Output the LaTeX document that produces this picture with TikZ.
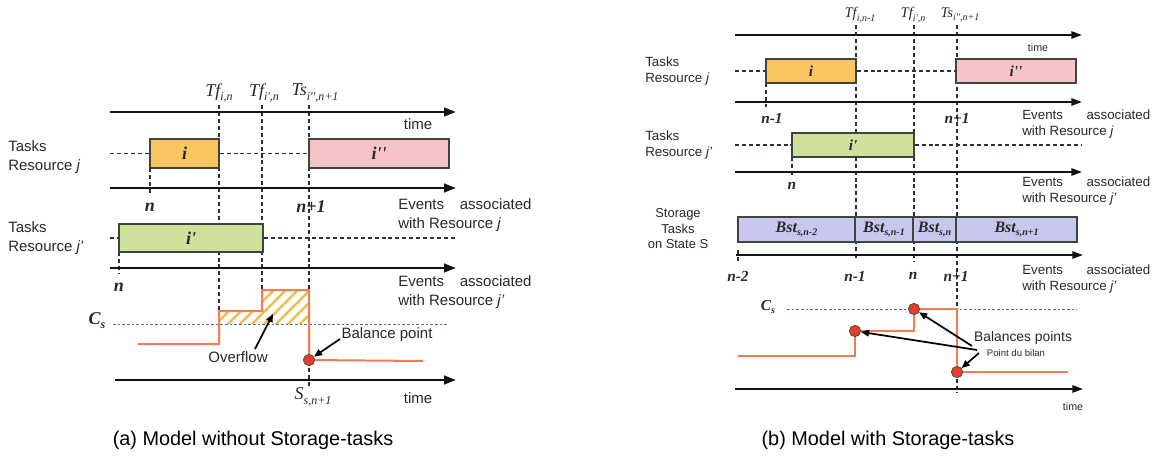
\documentclass[tikz,border=0pt]{standalone}
\usepackage{fontspec}
\setmainfont{Liberation Sans}
\newfontfamily\tms{Liberation Serif}
\usetikzlibrary{arrows.meta}
\definecolor{axc}{RGB}{20,20,20}
\definecolor{dc}{RGB}{40,50,60}
\definecolor{bc}{RGB}{60,70,60}
\definecolor{tc}{RGB}{40,40,40}
\definecolor{oc}{RGB}{242,125,85}
\definecolor{rc}{RGB}{230,60,40}
\definecolor{cc}{RGB}{70,120,150}
\definecolor{hc}{RGB}{245,185,70}
\definecolor{fi}{RGB}{250,196,95}
\definecolor{fii}{RGB}{246,196,198}
\definecolor{fip}{RGB}{206,224,156}
\definecolor{fb}{RGB}{200,200,238}
\newcommand\sbx[2]{\raisebox{-0.5ex}{\fontsize{#1}{#1}\selectfont #2}}
\tikzset{
  ax/.style={draw=axc, line width=1.8pt, -{Triangle[length=9pt,width=6.5pt]}},
  axr/.style={draw=axc, line width=1.4pt, -{Triangle[length=8pt,width=5.5pt]}},
  vd/.style={draw=dc, line width=1pt, dash pattern=on 3pt off 2.2pt},
  tbox/.style={draw=bc, line width=1pt, inner sep=0pt, text=tc},
  stepl/.style={draw=oc, line width=1.5pt},
  csl/.style={draw=cc, line width=0.7pt, dash pattern=on 2pt off 1.5pt},
  bal/.style={circle, fill=rc, draw=black!70, line width=0.6pt, minimum size=8.5pt, inner sep=0pt},
  arr/.style={draw=black, line width=1.3pt, -{Triangle[length=6pt,width=5pt]}},
  lab/.style={font=\fontsize{11.25}{14}\selectfont, text=tc, align=left, inner sep=0pt},
  labr/.style={font=\fontsize{10}{12}\selectfont, text=tc, align=left, inner sep=0pt},
  bil/.style={font=\fontsize{13.5}{14}\selectfont\tms\bfseries\itshape, text=tc, inner sep=0pt},
  bilr/.style={font=\fontsize{11.5}{12}\selectfont\tms\bfseries\itshape, text=tc, inner sep=0pt},
  til/.style={font=\fontsize{13.5}{14}\selectfont\tms\itshape, text=tc, inner sep=0pt},
  tilr/.style={font=\fontsize{11}{12}\selectfont\tms\itshape, text=tc, inner sep=0pt},
  capt/.style={font=\fontsize{14.9}{16}\selectfont, text=black, inner sep=0pt},
}
\begin{document}
\begin{tikzpicture}[x=0.75pt, y=-0.75pt]
\useasboundingbox (0,0) rectangle (1159,464);
% ================= (a) =================
% vertical dashed guides
\draw[vd] (219,105) -- (219,311);
\draw[vd] (262,105) -- (262,290);
\draw[vd] (309,105) -- (309,386);
\draw[vd] (150,168) -- (150,194);
\draw[vd] (119,252) -- (119,274);
% axes
\coordinate (a1s) at (110,112); \coordinate (a1e) at (456,112);
\coordinate (a2s) at (110,188); \coordinate (a2e) at (456,188);
\coordinate (a3s) at (110,268); \coordinate (a3e) at (456,268);
\coordinate (a4s) at (115,380); \coordinate (a4e) at (456,380);
\draw[ax] (a1s) -- (a1e);
\draw[ax] (a2s) -- (a2e);
\draw[ax] (a3s) -- (a3e);
\draw[ax] (a4s) -- (a4e);
% task boxes
\node[tbox, fill=fi, minimum width=51.75pt, minimum height=21.75pt, font=\fontsize{13.5}{14}\selectfont\tms\bfseries\itshape] (bi) at (184.5,153.5) {i};
\node[tbox, fill=fii, minimum width=105pt, minimum height=21.75pt, font=\fontsize{13.5}{14}\selectfont\tms\bfseries\itshape] (bii) at (379,153.5) {i''};
\node[tbox, fill=fip, minimum width=108pt, minimum height=21pt, font=\fontsize{13.5}{14}\selectfont\tms\bfseries\itshape] (bip) at (191,238) {i'};
\coordinate (hj) at (110,153.5);
\coordinate (hjp) at (110,238);
\coordinate (hjpe) at (456,238);
\draw[vd] (hj) -- (bi.west);
\draw[vd] (bi.east) -- (bii.west);
\draw[vd] (hjp) -- (bip.west);
\draw[vd] (bip.east) -- (hjpe);
% hatch
\begin{scope}
\clip (219,324) -- (219,311) -- (262,311) -- (262,290) -- (309,290) -- (309,324) -- cycle;
\foreach \k in {150,162,...,330} \draw[hc, line width=1.8pt] (\k,330) -- ++(45,-45);
\end{scope}
\coordinate (csa) at (113,324); \coordinate (csb) at (448,324);
\draw[csl] (csa) -- (csb);
\draw[stepl] (138,344) -- (219,344) -- (219,311) -- (262,311) -- (262,290) -- (309,290) -- (309,360) -- (423,361);
\node[bal] (bpa) at (309,360) {};
% labels
\node[til] (tf1) at (219,93) {Tf\sbx{9}{i,n}};
\node[til] (tf2) at (264,93) {Tf\sbx{9}{i',n}};
\node[til] (ts1) at (315,93) {Ts\sbx{9}{i'',n+1}};
\node[lab] (time1) at (418,124) {time};
\node[lab, anchor=west] (tj) at (8,157) {Tasks\\Resource \textit{j}};
\node[lab, anchor=west] (tjp) at (8,238) {Tasks\\Resource \textit{j'}};
\node[bil] (n1) at (150,207) {n};
\node[bil] (n2) at (311,207) {n+1};
\node[bil] (n3) at (119,287) {n};
\node[lab, anchor=west] (ev1) at (398,215) {\makebox[100pt][l]{Events\hfill associated}\\with Resource \textit{j}};
\node[lab, anchor=west] (ev2) at (398,292) {\makebox[100pt][l]{Events\hfill associated}\\with Resource \textit{j'}};
\node[bil] (cs1) at (97,321) {C\sbx{9}{s}};
\node[lab] (ovf) at (238,357) {Overflow};
\node[lab] (balt) at (387,335) {Balance point};
\coordinate (ovs) at (255,349); \coordinate (ove) at (273,314);
\draw[arr] (ovs) -- (ove);
\coordinate (bas) at (340,339);
\draw[arr] (bas) -- (bpa);
\node[til] (ssl) at (313,397) {S\sbx{9}{s,n+1}};
\node[lab] (time2) at (418,398) {time};
\node[capt] (cap1) at (253,440) {(a) Model without Storage-tasks};
% ================= (b) =================
\draw[vd] (856,25) -- (856,260);
\draw[vd] (914,25) -- (914,262);
\draw[vd] (957,25) -- (957,393);
\draw[vd] (766,83) -- (766,107);
\draw[vd] (792,157) -- (792,177);
\draw[vd] (738,250) -- (738,261);
\coordinate (r1s) at (735,35); \coordinate (r1e) at (1082,35);
\coordinate (r2s) at (735,102); \coordinate (r2e) at (1082,102);
\coordinate (r3s) at (735,172); \coordinate (r3e) at (1082,172);
\coordinate (r4s) at (736,255); \coordinate (r4e) at (1083,255);
\coordinate (r5s) at (735,389); \coordinate (r5e) at (1083,389);
\draw[axr] (r1s) -- (r1e);
\draw[axr] (r2s) -- (r2e);
\draw[axr] (r3s) -- (r3e);
\draw[axr] (r4s) -- (r4e);
\draw[axr] (r5s) -- (r5e);
\node[tbox, fill=fi, minimum width=67.5pt, minimum height=18pt, font=\fontsize{11.5}{12}\selectfont\tms\bfseries\itshape] (ri) at (811,71) {i};
\node[tbox, fill=fii, minimum width=90pt, minimum height=18pt, font=\fontsize{11.5}{12}\selectfont\tms\bfseries\itshape] (rii) at (1016,71) {i''};
\node[tbox, fill=fip, minimum width=91.5pt, minimum height=18pt, font=\fontsize{11.5}{12}\selectfont\tms\bfseries\itshape] (rip) at (853,145) {i'};
\coordinate (rhj) at (735,71);
\coordinate (rhjp) at (735,145);
\coordinate (rhjpe) at (1082,145);
\draw[vd] (rhj) -- (ri.west);
\draw[vd] (ri.east) -- (rii.west);
\draw[vd] (rhjp) -- (rip.west);
\draw[vd] (rip.east) -- (rhjpe);
% storage boxes
\tikzset{bst/.style={tbox, fill=fb, minimum height=18.75pt, font=\fontsize{12}{12}\selectfont\tms\bfseries\itshape}}
\node[bst, minimum width=87.75pt] (b1) at (796.5,229.5) {Bst\sbx{7.5}{s,n-2}};
\node[bst, minimum width=43.5pt] (b2) at (884,229.5) {Bst\sbx{7.5}{s,n-1}};
\node[bst, minimum width=32.25pt] (b3) at (934.5,229.5) {Bst\sbx{7.5}{s,n}};
\node[bst, minimum width=90.75pt] (b4) at (1016.5,229.5) {Bst\sbx{7.5}{s,n+1}};
% capacity chart
\coordinate (rcsa) at (787,309); \coordinate (rcsb) at (1077,309);
\draw[csl] (rcsa) -- (rcsb);
\draw[stepl] (738,356) -- (855,356) -- (855,331) -- (914,331) -- (914,309) -- (957,309) -- (957,372) -- (1068,372);
\node[bal] (c1) at (855,331) {};
\node[bal] (c2) at (914,309) {};
\node[bal] (c3) at (957,372) {};
% labels
\node[tilr] (rtf1) at (860,15) {Tf\sbx{7.5}{i,n-1}};
\node[tilr] (rtf2) at (913,15) {Tf\sbx{7.5}{i',n}};
\node[tilr] (rts1) at (960,15) {Ts\sbx{7.5}{i'',n+1}};
\node[font=\fontsize{8}{9}\selectfont, text=tc, inner sep=0pt] (rtime1) at (1038,48) {time};
\node[labr, anchor=west] (rtj) at (645,71) {Tasks\\Resource \textit{j}};
\node[labr, anchor=west] (rtjp) at (645,145) {Tasks\\Resource \textit{j'}};
\node[labr, align=center, font=\fontsize{9.7}{11.6}\selectfont] (rst) at (678,229) {Storage\\Tasks\\on State S};
\node[bilr] (rn1) at (772,118) {n-1};
\node[bilr] (rn2) at (957,118) {n+1};
\node[bilr] (rn3) at (792,186) {n};
\node[bilr] (rn4) at (738,276) {n-2};
\node[bilr] (rn5) at (855,276) {n-1};
\node[bilr] (rn6) at (913,276) {n};
\node[bilr] (rn7) at (956,276) {n+1};
\node[labr, anchor=west] (rev1) at (1022,124) {\makebox[96pt][l]{Events\hfill associated}\\with Resource \textit{j}};
\node[labr, anchor=west] (rev2) at (1022,191) {\makebox[96pt][l]{Events\hfill associated}\\with Resource \textit{j'}};
\node[labr, anchor=west] (rev3) at (1022,279) {\makebox[96pt][l]{Events\hfill associated}\\with Resource \textit{j'}};
\node[bilr] (rcs) at (768,307) {C\sbx{7.5}{s}};
\node[font=\fontsize{10.4}{12}\selectfont, text=tc, inner sep=0pt] (rbal) at (1023,338) {Balances points};
\node[font=\fontsize{7.2}{8}\selectfont, text=tc, inner sep=0pt] (rpdb) at (1016,353) {Point du bilan};
\coordinate (ra1) at (977,350);
\coordinate (ra2) at (972,346);
\coordinate (ra3) at (979,353);
\draw[arr] (ra1) -- (c1);
\draw[arr] (ra2) -- (c2);
\draw[arr] (ra3) -- (c3);
\node[font=\fontsize{8}{9}\selectfont, text=tc, inner sep=0pt] (rtime2) at (1073,407) {time};
\node[capt] (cap2) at (888,440) {(b) Model with Storage-tasks};
\end{tikzpicture}
\end{document}
